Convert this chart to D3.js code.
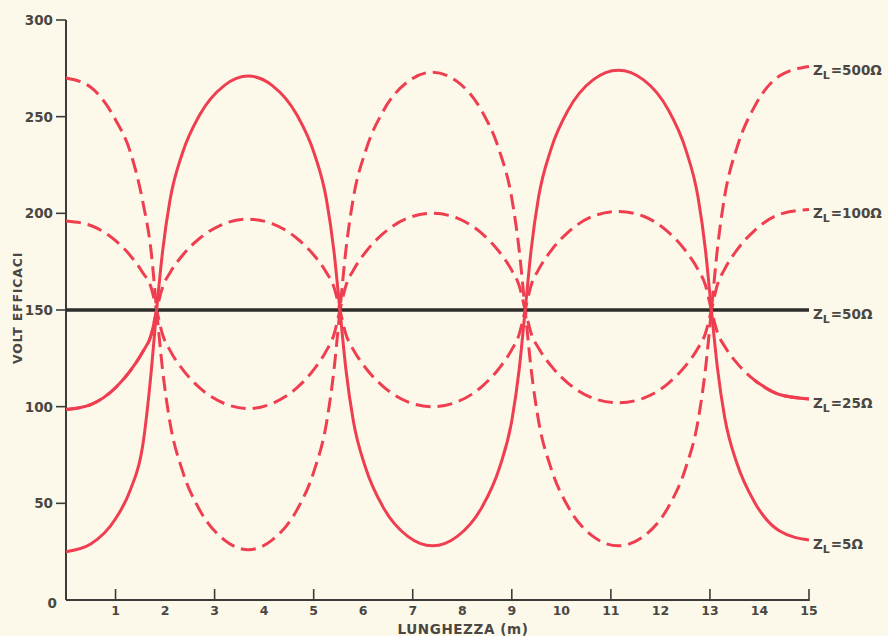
<!DOCTYPE html>
<html>
<head>
<meta charset="utf-8">
<script src="https://cdn.jsdelivr.net/npm/d3@7"></script>
<style>
  html, body { margin: 0; padding: 0; background: #fcf9ea; }
  svg { display: block; }
  text { font-family: "DejaVu Sans", "Liberation Sans", sans-serif; font-weight: bold; fill: #4a4743; }
</style>
</head>
<body>
<svg id="chart" width="888" height="636"></svg>
<script>
// Distance along the line (m) at which each voltage reading is taken
const distances = [
  0, 0.5, 1.0, 1.3, 1.55, 1.72, 1.83,
  1.95, 2.1, 2.35, 2.7, 3.2, 3.68, 4.16, 4.66, 5.01, 5.26, 5.41, 5.53,
  5.65, 5.8, 6.05, 6.4, 6.9, 7.4, 7.9, 8.4, 8.75, 9.0, 9.15, 9.27,
  9.39, 9.54, 9.79, 10.14, 10.64, 11.15, 11.66, 12.16, 12.51, 12.76, 12.91, 13.03,
  13.15, 13.3, 13.55, 13.9, 14.4, 15
];

// RMS voltage (V) for each load impedance
const volts500 = [
  270, 265.2, 248.4, 231.6, 206, 180, 150,
  119, 91.7, 66.9, 46.5, 31, 26, 31, 46.5, 66.9, 91.7, 119, 150,
  180.8, 207.8, 232.4, 252.7, 268.1, 273, 268.1, 252.7, 232.4, 207.8, 180.8, 150,
  119.5, 92.7, 68.3, 48.1, 32.9, 28, 32.9, 48.1, 68.3, 92.7, 119.5, 150,
  181.5, 209.2, 234.4, 255.2, 271, 276
];
const volts100 = [
  196, 193.7, 185.9, 178.1, 169.3, 161.5, 150,
  137.3, 129.1, 119.4, 109.7, 101.6, 99, 101.6, 109.7, 119.4, 129.1, 137.3, 150,
  162.5, 170.5, 180, 189.5, 197.5, 200, 197.5, 189.5, 180, 170.5, 162.5, 150,
  138, 130.3, 121.2, 112.1, 104.4, 102, 104.4, 112.1, 121.2, 130.3, 138, 150,
  163, 171.3, 181.2, 191.1, 199.4, 202
];
const volts50 = distances.map(() => 150);
const volts25 = [
  98.5, 101.1, 109.8, 118.6, 128.4, 137.1, 150,
  161.8, 169.3, 178.2, 187.1, 194.7, 197, 194.7, 187.1, 178.2, 169.3, 161.8, 150,
  137.5, 129.5, 120, 110.5, 102.5, 100, 102.5, 110.5, 120, 129.5, 137.5, 150,
  162.8, 170.9, 180.6, 190.3, 198.5, 201, 198.5, 190.3, 180.6, 170.9, 162.8, 150,
  138.5, 131.1, 122.4, 113.7, 106.3, 104
];
const volts5 = [
  25, 29, 42, 57, 80, 118, 150,
  180.3, 206.9, 231.1, 251, 266.2, 271, 266.2, 251, 231.1, 206.9, 180.3, 150,
  119.5, 92.7, 68.3, 48.1, 32.9, 28, 32.9, 48.1, 68.3, 92.7, 119.5, 150,
  181, 208.3, 233.1, 253.5, 269, 274, 269, 253.5, 233.1, 208.3, 181, 150,
  120.3, 94.1, 70.3, 50.6, 35.8, 31
];

const loadLabels = ["500Ω", "100Ω", "50Ω", "25Ω", "5Ω"];
const xTickLabels = [1, 2, 3, 4, 5, 6, 7, 8, 9, 10, 11, 12, 13, 14, 15];
const xTickMarks = [1, 3, 5, 7, 9, 11, 13, 15];
const yTickLabels = [0, 50, 100, 150, 200, 250, 300];

const RED = "#ef3e50";
const INK = "#3d3b38";

const svg = d3.select("#chart");
const x = d3.scaleLinear().domain([0, 15]).range([66, 809]);
const y = d3.scaleLinear().domain([0, 300]).range([600, 20]);

// Axes
const axisG = svg.append("g");
axisG.append("line")
  .attr("x1", x(0)).attr("x2", x(15)).attr("y1", y(0)).attr("y2", y(0))
  .attr("stroke", INK).attr("stroke-width", 2);
axisG.append("line")
  .attr("x1", x(0)).attr("x2", x(0)).attr("y1", y(0)).attr("y2", y(300))
  .attr("stroke", INK).attr("stroke-width", 2);

axisG.selectAll(".xtick").data(xTickMarks).join("line")
  .attr("x1", d => x(d)).attr("x2", d => x(d))
  .attr("y1", y(0) + 1).attr("y2", y(0) - 11)
  .attr("stroke", INK).attr("stroke-width", 1.6);

axisG.selectAll(".xlab").data(xTickLabels).join("text")
  .attr("x", d => x(d)).attr("y", 615)
  .attr("text-anchor", "middle").attr("font-size", 12.5)
  .text(d => d);

axisG.selectAll(".ytick").data(yTickLabels.filter(d => d > 0)).join("line")
  .attr("x1", x(0) - 10).attr("x2", x(0))
  .attr("y1", d => y(d)).attr("y2", d => y(d))
  .attr("stroke", INK).attr("stroke-width", 1.6);

axisG.selectAll(".ylab").data(yTickLabels).join("text")
  .attr("x", d => d === 0 ? 57 : 53).attr("y", d => y(d) + (d === 0 ? 8 : 5))
  .attr("text-anchor", "end").attr("font-size", 13.5)
  .text(d => d);

svg.append("text")
  .attr("x", 463).attr("y", 634)
  .attr("text-anchor", "middle").attr("font-size", 13.5)
  .attr("letter-spacing", 0.6)
  .text("LUNGHEZZA (m)");

svg.append("text")
  .attr("transform", `translate(22,${308}) rotate(-90)`)
  .attr("text-anchor", "middle").attr("font-size", 12.5)
  .attr("letter-spacing", 0.8)
  .text("VOLT EFFICACI");

// Voltage curves
const series = [
  { label: loadLabels[0], values: volts500, color: RED, dash: "15,7", width: 3 },
  { label: loadLabels[1], values: volts100, color: RED, dash: "15,7", width: 3 },
  { label: loadLabels[2], values: volts50, color: "#2f2d2b", dash: null, width: 3.5 },
  { label: loadLabels[3], values: volts25, color: RED, dash: "15,7", width: 3, solidWhere: d => d.x <= 1.83 || d.x >= 13.9 },
  { label: loadLabels[4], values: volts5, color: RED, dash: null, width: 3 }
];

const line = d3.line()
  .x(d => x(d.x))
  .y(d => y(d.v))
  .curve(d3.curveMonotoneX);

const curvesG = svg.append("g").attr("fill", "none").attr("stroke-linecap", "butt");

series.forEach(s => {
  const pts = distances.map((d, i) => ({ x: d, v: s.values[i] }));
  curvesG.append("path")
    .attr("d", line(pts))
    .attr("stroke", s.color)
    .attr("stroke-width", s.width)
    .attr("stroke-dasharray", s.dash);
  if (s.solidWhere) {
    curvesG.append("path")
      .attr("d", line.defined(s.solidWhere)(pts))
      .attr("stroke", s.color)
      .attr("stroke-width", s.width);
    line.defined(() => true);
  }
});

// Load labels at the right end of each curve
const labelG = svg.append("g");
series.forEach(s => {
  const yEnd = y(s.values[s.values.length - 1]);
  const t = labelG.append("text")
    .attr("x", 813).attr("y", yEnd + 9)
    .attr("font-size", 13.5);
  t.append("tspan").text("Z");
  t.append("tspan").attr("dy", 4).attr("font-size", 11).text("L");
  t.append("tspan").attr("dy", -4).attr("dx", 1).text("=" + s.label);
});
</script>
</body>
</html>
